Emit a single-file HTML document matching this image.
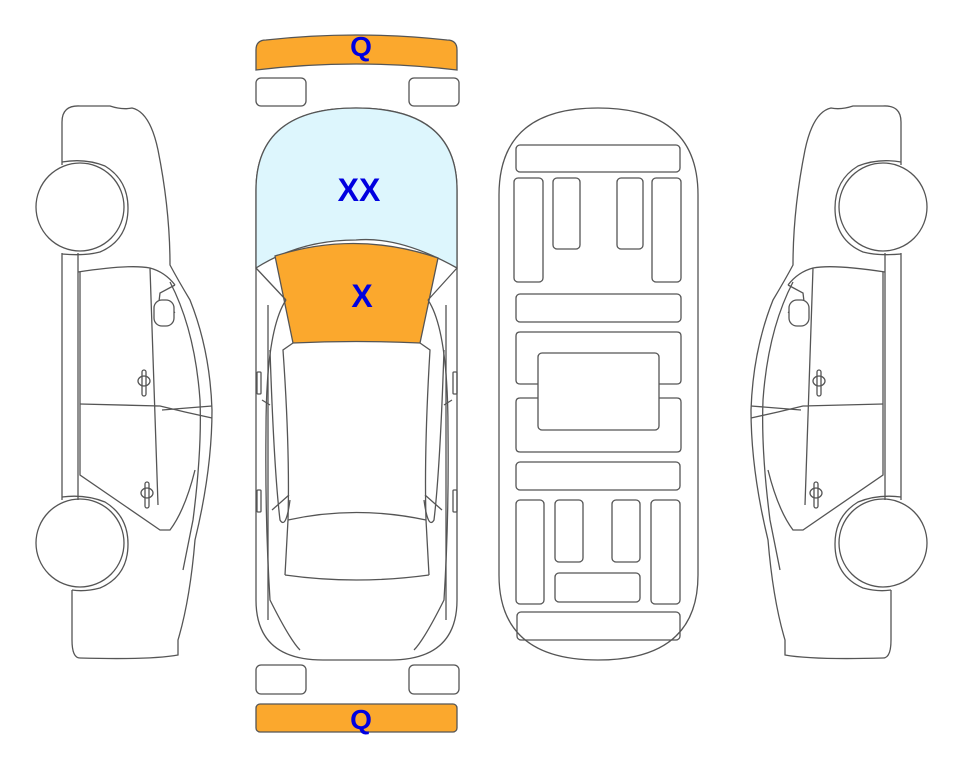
<!DOCTYPE html>
<html><head><meta charset="utf-8"><style>
html,body{margin:0;padding:0;background:#fff;}
svg{display:block;}
text{font-family:"Liberation Sans",sans-serif;font-weight:bold;fill:#0000e0;}
</style></head><body>
<svg width="963" height="768" viewBox="0 0 963 768" xmlns="http://www.w3.org/2000/svg">
<g fill="none" stroke="#555" stroke-width="1.3">
<!-- Left side car -->
<g id="side">
<path d="M62,165 L62,122 Q62,105 80,106 L110,106 Q122,110 132,108 Q150,112 158,150 Q170,210 170,265 Q178,280 190,300 Q210,350 212,410 Q212,470 195,540 Q190,600 178,640 L178,655 Q150,660 80,658 Q72,658 72,640 L72,590"/>
<path d="M62,162 Q85,158 105,166 Q128,180 128,208 Q128,240 100,252 Q85,256 62,254"/>
<circle cx="80" cy="207" r="44" fill="#fff"/>
<path d="M62,497 Q85,494 105,502 Q128,516 128,544 Q128,576 100,588 Q85,592 72,590"/>
<circle cx="80" cy="543" r="44" fill="#fff"/>
<path d="M62,253 L62,500 M78,253 L78,500"/>
<path d="M78,272 Q130,264 150,268 Q165,272 175,285 M150,268 L158,505 M80,404 L160,406 L185,412 L212,418 M162,410 L212,406"/>
<path d="M80,272 L80,475 L160,530 L170,530 Q185,510 195,470"/>
<path d="M170,282 Q195,330 200,400 Q202,450 193,520 L183,570"/>
<path d="M175,285 L160,293 L158,310 Q165,320 175,312"/>
<rect x="154" y="300" width="20" height="26" rx="8" fill="#fff"/>
<rect x="142" y="370" width="4" height="26" rx="2"/>
<ellipse cx="144" cy="381" rx="6" ry="5"/>
<rect x="145" y="482" width="4" height="26" rx="2"/>
<ellipse cx="147" cy="493" rx="6" ry="5"/>
</g>
<use href="#side" transform="translate(963,0) scale(-1,1)"/>

<!-- Top view car -->
<path d="M256,190 Q256,108 356,108 Q457,108 457,190 L457,600 Q457,660 390,660 L323,660 Q256,660 256,600 Z" fill="#fff"/>
<path d="M256,190 Q256,108 356,108 Q457,108 457,190 L457,268 Q400,236 356,240 Q300,240 256,268 Z" fill="#ddf6fd"/>
<path d="M275,256 Q356,230 438,258 L420,343 Q356,340 293,343 Z" fill="#fba82d"/>
<path d="M256,268 L286,300 M457,268 L428,300 M293,343 L283,350 Q290,450 288,520 L285,575 M420,343 L430,350 Q424,450 426,520 L429,575"/>
<path d="M286,300 Q266,330 266,430 Q265,520 270,600 Q290,640 300,650 M428,300 Q448,330 448,430 Q449,520 444,600 Q424,640 414,650"/>
<path d="M268,305 L268,620 M446,305 L446,620"/>
<path d="M288,520 Q356,505 426,520 M285,575 Q356,585 429,575 M289,495 L272,510 M425,495 L442,510 M262,400 L270,405 M452,400 L444,405"/>
<path d="M270,350 Q274,470 280,520 Q286,530 290,500 M444,350 Q440,470 434,520 Q428,530 424,500"/>
<rect x="257" y="372" width="4" height="22" rx="1"/><rect x="453" y="372" width="4" height="22" rx="1"/>
<rect x="257" y="490" width="4" height="22" rx="1"/><rect x="453" y="490" width="4" height="22" rx="1"/>

<!-- bumpers -->
<path d="M256,50 Q256,40 266,40 Q356,30 447,40 Q457,40 457,50 L457,70 Q356,58 256,70 Z" fill="#fba82d"/>
<rect x="256" y="78" width="50" height="28" rx="5"/>
<rect x="409" y="78" width="50" height="28" rx="5"/>
<rect x="256" y="665" width="50" height="29" rx="5"/>
<rect x="409" y="665" width="50" height="29" rx="5"/>
<rect x="256" y="704" width="201" height="28" rx="4" fill="#fba82d"/>

<!-- chassis -->
<path d="M499,195 Q499,108 598,108 Q698,108 698,195 L698,575 Q698,660 598,660 Q499,660 499,575 Z"/>
<rect x="516" y="145" width="164" height="27" rx="4"/>
<rect x="514" y="178" width="29" height="104" rx="4"/>
<rect x="553" y="178" width="27" height="71" rx="4"/>
<rect x="617" y="178" width="26" height="71" rx="4"/>
<rect x="652" y="178" width="29" height="104" rx="4"/>
<rect x="516" y="294" width="165" height="28" rx="4"/>
<path d="M538,384 L520,384 Q516,384 516,380 L516,336 Q516,332 520,332 L677,332 Q681,332 681,336 L681,380 Q681,384 677,384 L659,384"/>
<path d="M538,398 L520,398 Q516,398 516,402 L516,448 Q516,452 520,452 L677,452 Q681,452 681,448 L681,402 Q681,398 677,398 L659,398"/>
<rect x="538" y="353" width="121" height="77" rx="4"/>
<rect x="516" y="462" width="164" height="28" rx="4"/>
<rect x="516" y="500" width="28" height="104" rx="4"/>
<rect x="555" y="500" width="28" height="62" rx="4"/>
<rect x="612" y="500" width="28" height="62" rx="4"/>
<rect x="651" y="500" width="29" height="104" rx="4"/>
<rect x="555" y="573" width="85" height="29" rx="4"/>
<rect x="517" y="612" width="163" height="28" rx="4"/>
</g>
<text x="361" y="56" font-size="28" text-anchor="middle">Q</text>
<text x="359" y="201" font-size="32" text-anchor="middle">XX</text>
<text x="362" y="307" font-size="32" text-anchor="middle">X</text>
<text x="361" y="729" font-size="28" text-anchor="middle">Q</text>
</svg>
</body></html>
